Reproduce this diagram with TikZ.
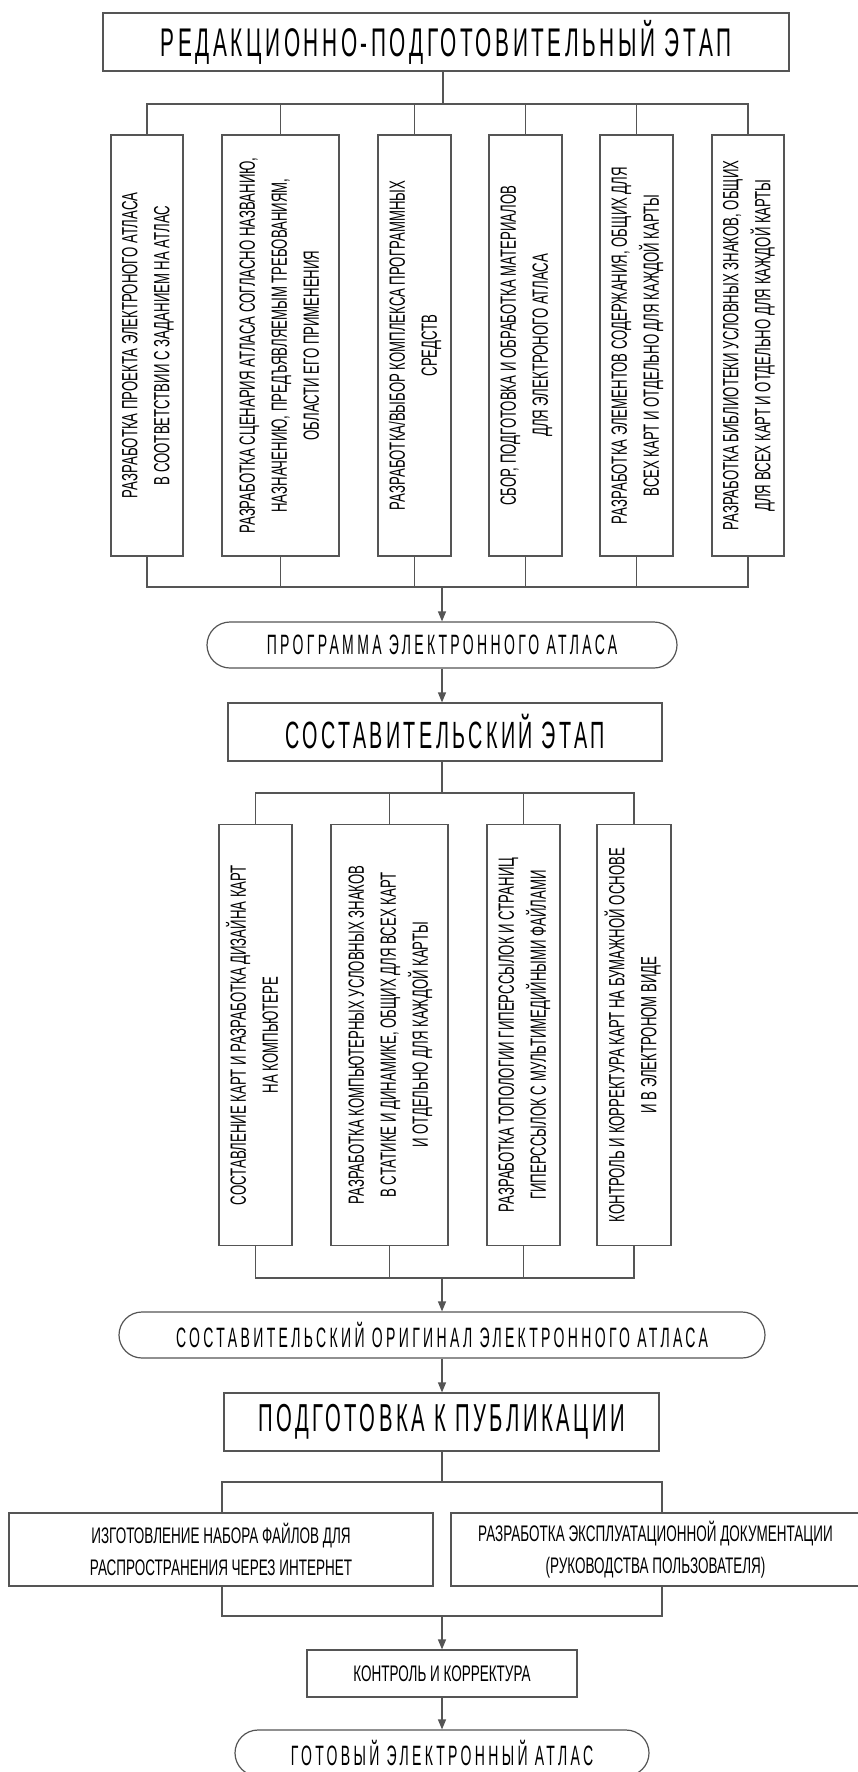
\documentclass[tikz,border=0pt]{standalone}
\usepackage{fontspec}
\setmainfont{Liberation Sans}
\newfontfamily\bodyfont[FakeStretch=0.6]{Liberation Sans}
\newfontfamily\headfont[FakeStretch=0.52,LetterSpace=9]{Liberation Sans}
\newfontfamily\pillfont[FakeStretch=0.5,LetterSpace=12]{Liberation Sans}
\usetikzlibrary{arrows.meta}
\definecolor{ln}{RGB}{85,85,85}
\tikzset{
  base/.style={draw=ln, line width=1.2pt, inner sep=0pt, text=black},
  vbox/.style={base, minimum height=421pt, font=\bodyfont\fontsize{22}{32}\selectfont},
  hbox/.style={base, align=center, font=\bodyfont\fontsize{22.5}{32}\selectfont},
  stage/.style={base, minimum height=58pt, font=\headfont\fontsize{40}{44}\selectfont},
  pill/.style={base, rounded corners=23pt, minimum height=46pt, font=\pillfont\fontsize{28}{30}\selectfont},
  conn/.style={draw=ln, line width=1.2pt},
  arr/.style={conn, -{Triangle[length=10pt,width=8pt]}},
}
\newcommand{\vtext}[1]{\rotatebox{90}{\begin{tabular}{@{}c@{}}#1\end{tabular}}}
\begin{document}
\begin{tikzpicture}[x=1pt,y=-1pt]
\useasboundingbox (0,0) rectangle (858,1772);
\clip (0,0) rectangle (858,1772);
\fill[white] (0,0) rectangle (858,1772);

% coordinates of buses
\coordinate (bus1) at (443,104);
\coordinate (bus2) at (442,587);
\coordinate (bus3) at (442,793);
\coordinate (bus4) at (442,1278);
\coordinate (bus5) at (442,1482);
\coordinate (bus6) at (442,1616);
\coordinate (lx) at (222,0);
\coordinate (rx) at (662,0);

% top stage
\node[stage, minimum width=686pt] (T) at (446,42) {РЕДАКЦИОННО-ПОДГОТОВИТЕЛЬНЫЙ ЭТАП};

% row 1
\node[vbox, minimum width=72pt] (b1) at (147,345.5) {\vtext{РАЗРАБОТКА ПРОЕКТА ЭЛЕКТРОНОГО АТЛАСА\\В СООТВЕТСТВИИ С ЗАДАНИЕМ НА АТЛАС}};
\node[vbox, minimum width=117pt] (b2) at (280.5,345.5) {\vtext{РАЗРАБОТКА СЦЕНАРИЯ АТЛАСА СОГЛАСНО НАЗВАНИЮ,\\НАЗНАЧЕНИЮ, ПРЕДЪЯВЛЯЕМЫМ ТРЕБОВАНИЯМ,\\ОБЛАСТИ ЕГО ПРИМЕНЕНИЯ}};
\node[vbox, minimum width=73pt] (b3) at (414.5,345.5) {\vtext{РАЗРАБОТКА/ВЫБОР КОМПЛЕКСА ПРОГРАММНЫХ\\СРЕДСТВ}};
\node[vbox, minimum width=73pt] (b4) at (525.5,345.5) {\vtext{СБОР, ПОДГОТОВКА И ОБРАБОТКА МАТЕРИАЛОВ\\ДЛЯ ЭЛЕКТРОНОГО АТЛАСА}};
\node[vbox, minimum width=73pt] (b5) at (636.5,345.5) {\vtext{РАЗРАБОТКА ЭЛЕМЕНТОВ СОДЕРЖАНИЯ, ОБЩИХ ДЛЯ\\ВСЕХ КАРТ И ОТДЕЛЬНО ДЛЯ КАЖДОЙ КАРТЫ}};
\node[vbox, minimum width=72pt] (b6) at (748,345.5) {\vtext{РАЗРАБОТКА БИБЛИОТЕКИ УСЛОВНЫХ ЗНАКОВ, ОБЩИХ\\ДЛЯ ВСЕХ КАРТ И ОТДЕЛЬНО ДЛЯ КАЖДОЙ КАРТЫ}};

\node[pill, minimum width=470pt] (O1) at (442,645) {ПРОГРАММА ЭЛЕКТРОННОГО АТЛАСА};
\node[stage, font=\headfont\fontsize{38}{42}\selectfont, minimum width=434pt] (S) at (445,732) {СОСТАВИТЕЛЬСКИЙ ЭТАП};

% row 2
\node[vbox, minimum width=73pt] (c1) at (255.5,1035) {\vtext{СОСТАВЛЕНИЕ КАРТ И РАЗРАБОТКА ДИЗАЙНА КАРТ\\НА КОМПЬЮТЕРЕ}};
\node[vbox, minimum width=117pt] (c2) at (389.5,1035) {\vtext{РАЗРАБОТКА КОМПЬЮТЕРНЫХ УСЛОВНЫХ ЗНАКОВ\\В СТАТИКЕ И ДИНАМИКЕ, ОБЩИХ ДЛЯ ВСЕХ КАРТ\\И ОТДЕЛЬНО ДЛЯ КАЖДОЙ КАРТЫ}};
\node[vbox, minimum width=73pt] (c3) at (523.5,1035) {\vtext{РАЗРАБОТКА ТОПОЛОГИИ ГИПЕРССЫЛОК И СТРАНИЦ\\ГИПЕРССЫЛОК С МУЛЬТИМЕДИЙНЫМИ ФАЙЛАМИ}};
\node[vbox, minimum width=74pt] (c4) at (634,1035) {\vtext{КОНТРОЛЬ И КОРРЕКТУРА КАРТ НА БУМАЖНОЙ ОСНОВЕ\\И В ЭЛЕКТРОНОМ ВИДЕ}};

\node[pill, minimum width=646pt] (O2) at (442,1335) {СОСТАВИТЕЛЬСКИЙ ОРИГИНАЛ ЭЛЕКТРОННОГО АТЛАСА};
\node[stage, font=\headfont\fontsize{39}{43}\selectfont, minimum width=435pt] (P) at (441.5,1422) {ПОДГОТОВКА К ПУБЛИКАЦИИ};

\node[hbox, minimum width=424pt, minimum height=73pt] (L) at (221,1549.5) {ИЗГОТОВЛЕНИЕ НАБОРА ФАЙЛОВ ДЛЯ\\РАСПРОСТРАНЕНИЯ ЧЕРЕЗ ИНТЕРНЕТ};
\node[hbox, minimum width=409pt, minimum height=73pt] (R) at (655.5,1549.5) {РАЗРАБОТКА ЭКСПЛУАТАЦИОННОЙ ДОКУМЕНТАЦИИ\\(РУКОВОДСТВА ПОЛЬЗОВАТЕЛЯ)};
\node[hbox, minimum width=270pt, minimum height=47pt] (K) at (442,1673.5) {КОНТРОЛЬ И КОРРЕКТУРА};
\node[pill, minimum width=414pt] (O3) at (442,1753) {ГОТОВЫЙ ЭЛЕКТРОННЫЙ АТЛАС};

% connectors stage 1
\draw[conn] (T.south -| bus1) -- (bus1);
\draw[conn] (b1.north) |- (b6.north |- bus1) -- (b6.north);
\foreach \n in {b2,b3,b4,b5} \draw[conn] (\n.north) -- (\n.north |- bus1);
\draw[conn] (b1.south) |- (b6.south |- bus2) -- (b6.south);
\foreach \n in {b2,b3,b4,b5} \draw[conn] (\n.south) -- (\n.south |- bus2);
\draw[arr] (bus2) -- (O1.north);
\draw[arr] (O1.south) -- (O1.south |- S.north);

% connectors stage 2
\draw[conn] (S.south -| bus3) -- (bus3);
\draw[conn] (c1.north) |- (c4.north |- bus3) -- (c4.north);
\foreach \n in {c2,c3} \draw[conn] (\n.north) -- (\n.north |- bus3);
\draw[conn] (c1.south) |- (c4.south |- bus4) -- (c4.south);
\foreach \n in {c2,c3} \draw[conn] (\n.south) -- (\n.south |- bus4);
\draw[arr] (bus4) -- (O2.north);
\draw[arr] (O2.south) -- (O2.south |- P.north);

% connectors stage 3
\draw[conn] (P.south -| bus5) -- (bus5);
\draw[conn] (L.north -| lx) |- (rx |- bus5) -- (R.north -| rx);
\draw[conn] (L.south -| lx) |- (rx |- bus6) -- (R.south -| rx);
\draw[arr] (bus6) -- (K.north);
\draw[arr] (K.south) -- (O3.north);
\end{tikzpicture}
\end{document}
